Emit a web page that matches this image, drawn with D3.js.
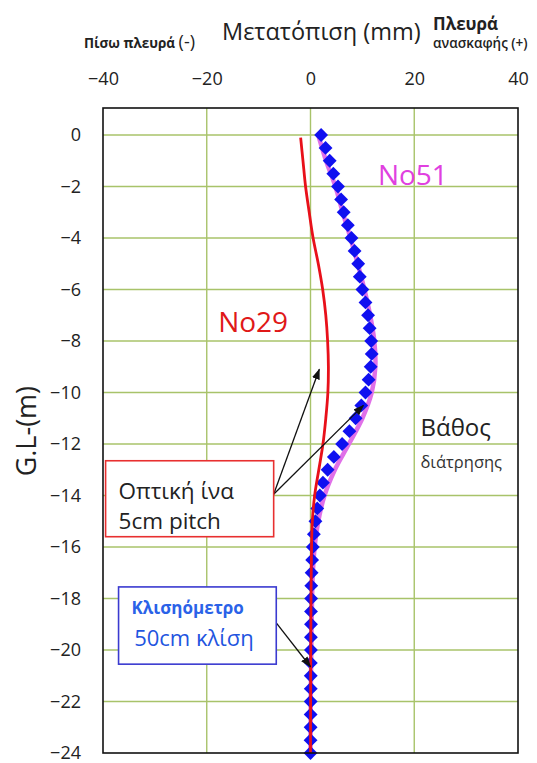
<!DOCTYPE html>
<html>
<head>
<meta charset="utf-8">
<script src="https://cdn.jsdelivr.net/npm/d3@7"></script>
<style>
  body { margin: 0; background: #fff; }
  svg { display: block; font-family: "Open Sans", sans-serif; }
</style>
</head>
<body>
<svg id="chart" width="537" height="763"></svg>
<script>
// Axis ticks
var xTicks = [-40, -20, 0, 20, 40];
var depthTicks = [0, -2, -4, -6, -8, -10, -12, -14, -16, -18, -20, -22, -24];

// No51 inclinometer, one reading every 0.5 m
var inclinoDepth = [
    0, -0.5, -1, -1.5, -2, -2.5, -3, -3.5, -4, -4.5,
    -5, -5.5, -6, -6.5, -7, -7.5, -8, -8.5, -9, -9.5,
    -10, -10.5, -11, -11.5, -12, -12.5, -13, -13.5, -14, -14.5,
    -15, -15.5, -16, -16.5, -17, -17.5, -18, -18.5, -19, -19.5,
    -20, -20.5, -21, -21.5, -22, -22.5, -23, -23.5, -24
];
var inclinoDisp = [
    2.05, 2.9, 3.7, 4.4, 5.3, 5.9, 6.4, 7.2, 7.9, 8.5,
    9.2, 9.5, 10.0, 10.6, 11.1, 11.4, 11.7, 11.8, 11.6, 11.2,
    10.6, 9.8, 8.7, 7.5, 6.1, 4.5, 3.3, 2.4, 1.8, 1.3,
    0.95, 0.65, 0.45, 0.32, 0.22, 0.15, 0.12, 0.1, 0.1, 0.08,
    0.08, 0.06, 0.05, 0.05, 0.04, 0.03, 0.02, 0.01, 0.0
];

// No51 optical fibre
var fibre51Depth = [0, -1, -2, -3, -4, -5, -6, -7, -8, -9, -10, -11, -12, -13, -14, -15, -16, -17, -18, -20, -22, -24];
var fibre51Disp  = [1.5, 3.0, 4.8, 6.2, 7.7, 9.1, 10.4, 11.5, 12.3, 12.5, 11.8, 10.0, 7.4, 4.7, 2.7, 1.5, 0.8, 0.45, 0.3, 0.15, 0.05, 0.0];

// No29 optical fibre
var fibre29Depth = [-0.1, -1, -2, -3, -4, -5, -6, -7, -8, -9, -10, -11, -12, -13, -14, -15, -16, -18, -20, -22, -24];
var fibre29Disp  = [-1.9, -1.45, -0.95, -0.25, 0.5, 1.5, 2.35, 2.95, 3.3, 3.45, 3.35, 2.95, 2.4, 1.6, 0.8, 0.35, 0.2, 0.1, 0.05, 0.02, 0.0];

var margin = { top: 108, right: 19, bottom: 10, left: 103 };
var width  = 537 - margin.left - margin.right;
var height = 763 - margin.top - margin.bottom;

var x = d3.scaleLinear().domain([-40, 40]).range([0, width]);
var y = d3.scaleLinear().domain([1.05, -24]).range([0, height]);

var root = d3.select("#chart");
var svg = root.append("g")
    .attr("transform", "translate(" + margin.left + "," + margin.top + ")");

// Arrow head
root.append("defs").append("marker")
    .attr("id", "arrow")
    .attr("markerUnits", "userSpaceOnUse")
    .attr("markerWidth", 11)
    .attr("markerHeight", 8)
    .attr("refX", 10)
    .attr("refY", 4)
    .attr("orient", "auto")
    .append("path")
    .attr("d", "M0,0 L11,4 L0,8 Z")
    .style("fill", "#111");

// Grid
var gridColor = "#a8c36a";
svg.append("g").selectAll("line")
    .data(xTicks.slice(1, -1))
    .enter().append("line")
    .attr("x1", d => x(d)).attr("x2", d => x(d))
    .attr("y1", 0).attr("y2", height)
    .style("stroke", gridColor).style("stroke-width", 1.4);

svg.append("g").selectAll("line")
    .data(depthTicks.slice(0, -1))
    .enter().append("line")
    .attr("x1", 0).attr("x2", width)
    .attr("y1", d => y(d)).attr("y2", d => y(d))
    .style("stroke", gridColor).style("stroke-width", 1.4);

// Axes (labels only, no ticks)
var xAxisG = svg.append("g")
    .call(d3.axisTop(x).tickValues(xTicks).tickSize(0).tickPadding(23));
var yAxisG = svg.append("g")
    .call(d3.axisLeft(y).tickValues(depthTicks).tickSize(0).tickPadding(22));

[xAxisG, yAxisG].forEach(function(g) {
    g.select(".domain").remove();
    g.selectAll("text")
        .style("font-family", "'Open Sans', sans-serif")
        .style("font-size", "18px")
        .style("fill", "#222");
});

// Curves
var line = d3.line()
    .x(d => x(d[1]))
    .y(d => y(d[0]))
    .curve(d3.curveCatmullRom);

svg.append("path")
    .datum(d3.zip(fibre51Depth, fibre51Disp))
    .attr("d", line)
    .style("fill", "none")
    .style("stroke", "#e070e8")
    .style("stroke-width", 4.5);

svg.append("g").selectAll("path")
    .data(d3.zip(inclinoDepth, inclinoDisp))
    .enter().append("path")
    .attr("d", d3.symbol(d3.symbolSquare, 96))
    .attr("transform", d => "translate(" + x(d[1]) + "," + y(d[0]) + ") rotate(45)")
    .style("fill", "#1010f0");

svg.append("path")
    .datum(d3.zip(fibre29Depth, fibre29Disp))
    .attr("d", line)
    .style("fill", "none")
    .style("stroke", "#e8101a")
    .style("stroke-width", 2.8);

// Frame
svg.append("rect")
    .attr("width", width)
    .attr("height", height)
    .style("fill", "none")
    .style("stroke", "#111")
    .style("stroke-width", 1.6);

// Series labels
svg.append("text")
    .attr("x", x(13)).attr("y", y(-1.95))
    .style("font-size", "28px").style("fill", "#e040e0")
    .text("No51");

svg.append("text")
    .attr("x", x(-17.8)).attr("y", y(-7.65))
    .style("font-size", "28px").style("fill", "#e01818")
    .text("No29");

svg.append("text")
    .attr("x", x(21.2)).attr("y", y(-11.7))
    .style("font-size", "24px").style("fill", "#222")
    .text("Βάθος");

svg.append("text")
    .attr("x", x(21.2)).attr("y", y(-12.95))
    .style("font-size", "16.5px").style("fill", "#333")
    .text("διάτρησης");

// Callout: optical fibre
var fibreFrom = [-7.1, -13.95];
[[1.7, -9.1], [10.2, -10.5]].forEach(function(t) {
    svg.append("line")
        .attr("x1", x(fibreFrom[0])).attr("y1", y(fibreFrom[1]))
        .attr("x2", x(t[0])).attr("y2", y(t[1]))
        .attr("marker-end", "url(#arrow)")
        .style("stroke", "#111").style("stroke-width", 1.3);
});

svg.append("rect")
    .attr("x", x(-39.5)).attr("y", y(-12.65))
    .attr("width", x(-7.1) - x(-39.5))
    .attr("height", y(-15.6) - y(-12.65))
    .style("fill", "#fff")
    .style("stroke", "#e83030")
    .style("stroke-width", 1.6);

svg.append("text")
    .attr("x", x(-37)).attr("y", y(-14.15))
    .style("font-size", "22.5px").style("fill", "#222")
    .text("Οπτική ίνα");
svg.append("text")
    .attr("x", x(-37)).attr("y", y(-15.3))
    .style("font-size", "22.5px").style("fill", "#222")
    .text("5cm pitch");

// Callout: inclinometer
svg.append("line")
    .attr("x1", x(-6.6)).attr("y1", y(-18.95))
    .attr("x2", x(0)).attr("y2", y(-20.65))
    .attr("marker-end", "url(#arrow)")
    .style("stroke", "#111").style("stroke-width", 1.3);

svg.append("rect")
    .attr("x", x(-37)).attr("y", y(-17.55))
    .attr("width", x(-6.6) - x(-37))
    .attr("height", y(-20.55) - y(-17.55))
    .style("fill", "#fff")
    .style("stroke", "#3a3ad0")
    .style("stroke-width", 1.6);

svg.append("text")
    .attr("x", x(-34.5)).attr("y", y(-18.6))
    .style("font-size", "17px").style("font-weight", "bold").style("fill", "#2a62e8")
    .text("Κλισηόμετρο");
svg.append("text")
    .attr("x", x(-34)).attr("y", y(-19.85))
    .style("font-size", "22px").style("fill", "#1f55e0")
    .text("50cm κλίση");

// Axis titles
var titleG = root.append("g").style("fill", "#222");

var backSide = titleG.append("text").attr("x", 84).attr("y", 48);
backSide.append("tspan").style("font-size", "13.5px").style("font-weight", "bold").text("Πίσω πλευρά ");
backSide.append("tspan").style("font-size", "18px").text("(-)");

titleG.append("text")
    .attr("x", 222).attr("y", 40)
    .style("font-size", "23.5px")
    .text("Μετατόπιση (mm)");

titleG.append("text")
    .attr("x", 433).attr("y", 30)
    .style("font-size", "17px").style("font-weight", "bold")
    .text("Πλευρά");

titleG.append("text")
    .attr("x", 433).attr("y", 48)
    .style("font-size", "13.5px").style("font-weight", "600")
    .text("ανασκαφής (+)");

root.append("text")
    .attr("transform", "translate(36," + (margin.top + y(-11.5)) + ") rotate(-90)")
    .attr("text-anchor", "middle")
    .style("font-size", "27px")
    .style("fill", "#222")
    .text("G.L-(m)");
</script>
</body>
</html>
